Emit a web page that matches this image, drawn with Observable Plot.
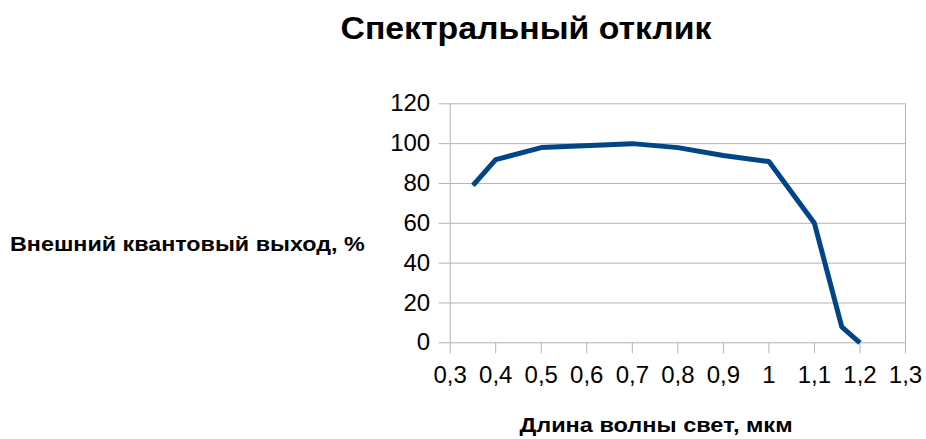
<!DOCTYPE html>
<html>
<head>
<meta charset="utf-8">
<script src="https://cdn.jsdelivr.net/npm/d3@7"></script>
<script src="https://cdn.jsdelivr.net/npm/@observablehq/plot@0.6"></script>
<style>
  html, body { margin: 0; padding: 0; background: #fff; }
  #wrap { position: relative; width: 926px; height: 439px; font-family: "Liberation Sans", Arial, sans-serif; }
  .lbl { position: absolute; font-weight: bold; color: #000; white-space: nowrap; line-height: 1.15; z-index: 2; }
  #title { left: 526px; top: 11px; font-size: 31px; transform: translateX(-50%) scaleX(1.09); }
  #ylab { left: 10px; top: 232px; font-size: 21px; transform-origin: 0 0; transform: scaleX(1.11); }
  #xlab { left: 655.5px; top: 413px; font-size: 21px; transform: translateX(-50%) scaleX(1.12); }
  svg { position: absolute; left: 0; top: 0; }
</style>
</head>
<body>
<div id="wrap">
  <div id="title" class="lbl">Спектральный отклик</div>
  <div id="ylab" class="lbl">Внешний квантовый выход, %</div>
  <div id="xlab" class="lbl">Длина волны свет, мкм</div>
</div>
<script>
const wavelength = [0.35, 0.4, 0.5, 0.7, 0.8, 0.9, 1.0, 1.1, 1.16, 1.2];
const efficiency = [79, 92, 98, 100, 98, 94, 91, 60, 8, 0];
const xTicks = [0.3, 0.4, 0.5, 0.6, 0.7, 0.8, 0.9, 1.0, 1.1, 1.2, 1.3];
const yTicks = [0, 20, 40, 60, 80, 100, 120];

const data = wavelength.map((w, i) => ({w, e: efficiency[i]}));
const fmt = d => String(+d.toFixed(1)).replace(".", ",");

const chart = Plot.plot({
  width: 926,
  height: 439,
  marginLeft: 449.7,
  marginRight: 21,
  marginTop: 103.3,
  marginBottom: 96.7,
  style: {fontFamily: "Liberation Sans, Arial, sans-serif", fontSize: "24px", color: "#000", background: "transparent"},
  x: {domain: [0.3, 1.3]},
  y: {domain: [0, 120]},
  marks: [
    Plot.ruleY(yTicks, {stroke: "#b3b3b3", strokeWidth: 1}),
    Plot.ruleX([0.3, 1.3], {stroke: "#b3b3b3", strokeWidth: 1}),
    Plot.axisX({ticks: xTicks, tickFormat: fmt, tickSize: 11, tickPadding: 12, stroke: "#b3b3b3", strokeOpacity: 1, label: null, fill: "#000"}),
    Plot.axisY({ticks: yTicks, tickSize: 11, tickPadding: 9, stroke: "#b3b3b3", strokeOpacity: 1, label: null, fill: "#000"}),
    Plot.line(data, {x: "w", y: "e", stroke: "#004586", strokeWidth: 5, strokeLinejoin: "miter", strokeLinecap: "butt"})
  ]
});
document.getElementById("wrap").appendChild(chart);
</script>
</body>
</html>
